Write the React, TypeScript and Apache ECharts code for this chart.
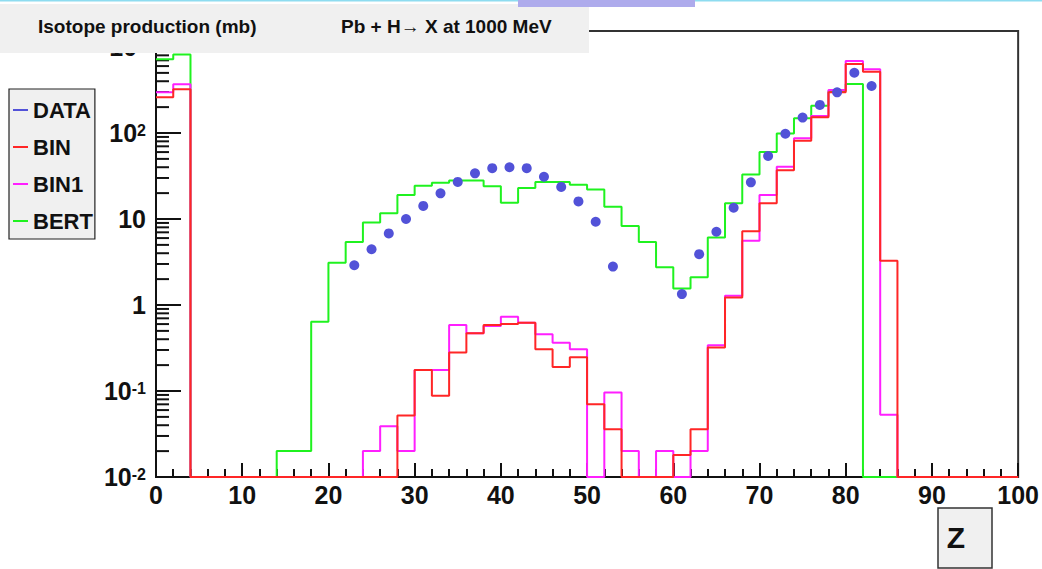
import React, { useEffect, useRef } from "react";
import * as echarts from "echarts";

// ---- data ----
const binLowEdges = [
  0, 2, 4, 6, 8, 10, 12, 14, 16, 18, 20, 22, 24, 26, 28, 30, 32, 34, 36, 38,
  40, 42, 44, 46, 48, 50, 52, 54, 56, 58, 60, 62, 64, 66, 68, 70, 72, 74, 76, 78,
  80, 82, 84, 86, 88, 90, 92, 94, 96, 98,
];
const binUpperEdge = 100;

const bertValues = [
  720, 820, 0, 0, 0, 0, 0, 0.02, 0.02, 0.64, 3.1, 5.4, 9.1, 11.7, 19, 24.4, 26.4,
  28, 28, 24, 15.5, 23, 27, 27, 25, 22, 13.9, 8.3, 5.4, 2.74, 1.56, 2.1, 6.1, 15.2,
  33, 60, 99, 148, 208, 307, 371, 0, 0, 0, 0, 0, 0, 0, 0, 0,
];
const bin1Values = [
  297, 368, 0, 0, 0, 0, 0, 0, 0, 0, 0, 0, 0.02, 0.039, 0.02, 0.175, 0.175, 0.585,
  0.47, 0.57, 0.73, 0.62, 0.457, 0.365, 0.305, 0, 0.096, 0.02, 0, 0.02, 0, 0.02,
  0.34, 1.28, 5.6, 19, 40.5, 87, 158, 316, 687, 550, 0.053, 0, 0, 0, 0, 0, 0, 0,
];
const binValues = [
  260, 322, 0, 0, 0, 0, 0, 0, 0, 0, 0, 0, 0, 0, 0.052, 0.175, 0.088, 0.28, 0.47,
  0.585, 0.6, 0.62, 0.305, 0.19, 0.247, 0.07, 0.036, 0, 0, 0, 0.018, 0.036, 0.32,
  1.22, 7.2, 15.2, 37, 81, 152, 297, 634, 516, 3.27, 0, 0, 0, 0, 0, 0, 0,
];

const dataZ = [
  23, 25, 27, 29, 31, 33, 35, 37, 39, 41, 43, 45, 47, 49, 51, 53, 61, 63, 65, 67,
  69, 71, 73, 75, 77, 79, 81, 83,
];
const dataValues = [
  2.9, 4.45, 6.8, 10, 14.2, 19.9, 27, 34, 39, 40, 39, 31, 23.6, 16, 9.3, 2.8, 1.34,
  3.9, 7.1, 13.5, 26.7, 54, 98, 151, 212, 297, 502, 352,
];

const legendNames = ["DATA", "BIN", "BIN1", "BERT"];
const yDecadeExponents = [-2, -1, 0, 1, 2, 3];
const yMinorMultipliers = [2, 3, 4, 5, 6, 7, 8, 9];
const titleLeft = "Isotope production (mb)";
const titleRight = "Pb + H\u2192 X at 1000 MeV";
const xAxisTitle = "Z";

const Y_MIN = 0.01;
const Y_MAX = 1535;
const FONT = "'Liberation Sans', Arial, Helvetica, sans-serif";

function stepData(values: number[]) {
  const pts = binLowEdges.map((e, i) => [e, values[i] > 0 ? values[i] : Y_MIN]);
  const last = values[values.length - 1];
  pts.push([binUpperEdge, last > 0 ? last : Y_MIN]);
  return pts;
}

export default function App() {
  const ref = useRef<HTMLDivElement>(null);

  useEffect(() => {
    if (!ref.current) return;
    const chart = echarts.init(ref.current, null, { renderer: "svg" });

    const minorTicks: number[][] = [];
    yDecadeExponents.forEach((e) => {
      yMinorMultipliers.forEach((m) => {
        const v = m * Math.pow(10, e);
        if (v < Y_MAX) minorTicks.push([0, v]);
      });
    });

    const titleStyle = {
      fontSize: 19,
      lineHeight: 16,
      fontWeight: "bold",
      color: "#111",
      fontFamily: FONT,
    };

    const option: any = {
      animation: false,
      backgroundColor: "#ffffff",
      title: [
        { text: titleLeft, left: 38, top: 18, padding: 0, z: 8, textStyle: titleStyle },
        { text: titleRight, left: 341, top: 18, padding: 0, z: 8, textStyle: titleStyle },
      ],
      legend: {
        orient: "vertical",
        left: 9,
        top: 89,
        backgroundColor: "#f0f0f0",
        borderColor: "#222",
        borderWidth: 1.2,
        borderRadius: 0,
        padding: [10, 2, 7, 4],
        itemGap: 15,
        itemWidth: 15,
        itemHeight: 2,
        selectedMode: false,
        textStyle: { fontSize: 22, fontWeight: "bold", color: "#111", fontFamily: FONT },
        data: legendNames.map((n) => ({ name: n, icon: "rect" })),
      },
      grid: {
        left: 156,
        right: 20,
        top: 31,
        bottom: 92,
        show: true,
        borderColor: "#333",
        borderWidth: 2,
        backgroundColor: "#fff",
        containLabel: false,
      },
      xAxis: {
        type: "value",
        min: 0,
        max: 100,
        interval: 10,
        axisLine: { show: true, lineStyle: { color: "#111", width: 2 } },
        axisTick: { show: true, inside: true, length: 14, lineStyle: { color: "#111", width: 2 } },
        minorTick: { show: true, splitNumber: 5, length: 8, lineStyle: { color: "#111", width: 2 } },
        splitLine: { show: false },
        minorSplitLine: { show: false },
        axisLabel: {
          margin: 5,
          fontSize: 25,
          fontWeight: "bold",
          color: "#111",
          fontFamily: FONT,
        },
      },
      yAxis: {
        type: "log",
        logBase: 10,
        min: Y_MIN,
        max: Y_MAX,
        axisLine: { show: true, lineStyle: { color: "#111", width: 2 } },
        axisTick: { show: true, inside: true, length: 25, lineStyle: { color: "#111", width: 2 } },
        splitLine: { show: false },
        axisLabel: {
          margin: 10,
          color: "#111",
          formatter: (v: number) => {
            const lg = Math.log10(v);
            const e = Math.round(lg);
            if (Math.abs(lg - e) > 1e-6 || yDecadeExponents.indexOf(e) < 0) return "";
            if (e === 0) return "{b|1}";
            if (e === 1) return "{b|10}";
            return "{b|10}{s|" + e + "}";
          },
          rich: {
            b: { fontSize: 25, fontWeight: "bold", color: "#111", fontFamily: FONT, lineHeight: 22 },
            s: { fontSize: 16, fontWeight: "bold", color: "#111", fontFamily: FONT, verticalAlign: "top", lineHeight: 14 },
          },
        },
      },
      graphic: [
        {
          type: "rect",
          z: 5,
          shape: { x: 0, y: 4, width: 589, height: 49 },
          style: { fill: "#f0f0f0" },
        },
        {
          type: "line",
          z: 5,
          shape: { x1: 0, y1: 0.75, x2: 1042, y2: 0.75 },
          style: { stroke: "#8edcf0", lineWidth: 1.5 },
        },
        {
          type: "rect",
          z: 5,
          shape: { x: 518, y: 0, width: 177, height: 7 },
          style: { fill: "#aeabec" },
        },
        {
          type: "rect",
          z: 5,
          shape: { x: 938, y: 508, width: 54, height: 60 },
          style: { fill: "#f0f0f0", stroke: "#333", lineWidth: 1.5 },
        },
        {
          type: "text",
          z: 6,
          x: 956,
          y: 537,
          style: {
            text: xAxisTitle,
            fontSize: 30,
            fontWeight: "bold",
            fontFamily: FONT,
            fill: "#111",
            align: "center",
            verticalAlign: "middle",
          },
        },
      ],
      series: [
        {
          type: "custom",
          name: "yMinorTicks",
          silent: true,
          clip: false,
          z: 3,
          data: minorTicks,
          encode: { x: 0, y: 1 },
          renderItem: (params: any, api: any) => {
            const p = api.coord([api.value(0), api.value(1)]);
            return {
              type: "line",
              shape: { x1: p[0], y1: p[1], x2: p[0] + 13, y2: p[1] },
              style: { stroke: "#111", lineWidth: 2 },
            };
          },
        },
        {
          name: "BERT",
          type: "line",
          step: "end",
          symbol: "none",
          clip: true,
          z: 3,
          itemStyle: { color: "#1ff21f" },
          lineStyle: { color: "#1ff21f", width: 2 },
          data: stepData(bertValues),
        },
        {
          name: "BIN1",
          type: "line",
          step: "end",
          symbol: "none",
          clip: true,
          z: 4,
          itemStyle: { color: "#ff1fff" },
          lineStyle: { color: "#ff1fff", width: 2 },
          data: stepData(bin1Values),
        },
        {
          name: "BIN",
          type: "line",
          step: "end",
          symbol: "none",
          clip: true,
          z: 5,
          itemStyle: { color: "#ff2626" },
          lineStyle: { color: "#ff2626", width: 2 },
          data: stepData(binValues),
        },
        {
          name: "DATA",
          type: "scatter",
          symbol: "circle",
          symbolSize: 10,
          z: 6,
          itemStyle: { color: "#5252d8", opacity: 1 },
          data: dataZ.map((z, i) => [z, dataValues[i]]),
        },
      ],
    };

    chart.setOption(option);
    return () => chart.dispose();
  }, []);

  return (
    <div
      ref={ref}
      style={{ position: "fixed", left: 0, top: 0, width: 1042, height: 569, background: "#fff" }}
    />
  );
}
